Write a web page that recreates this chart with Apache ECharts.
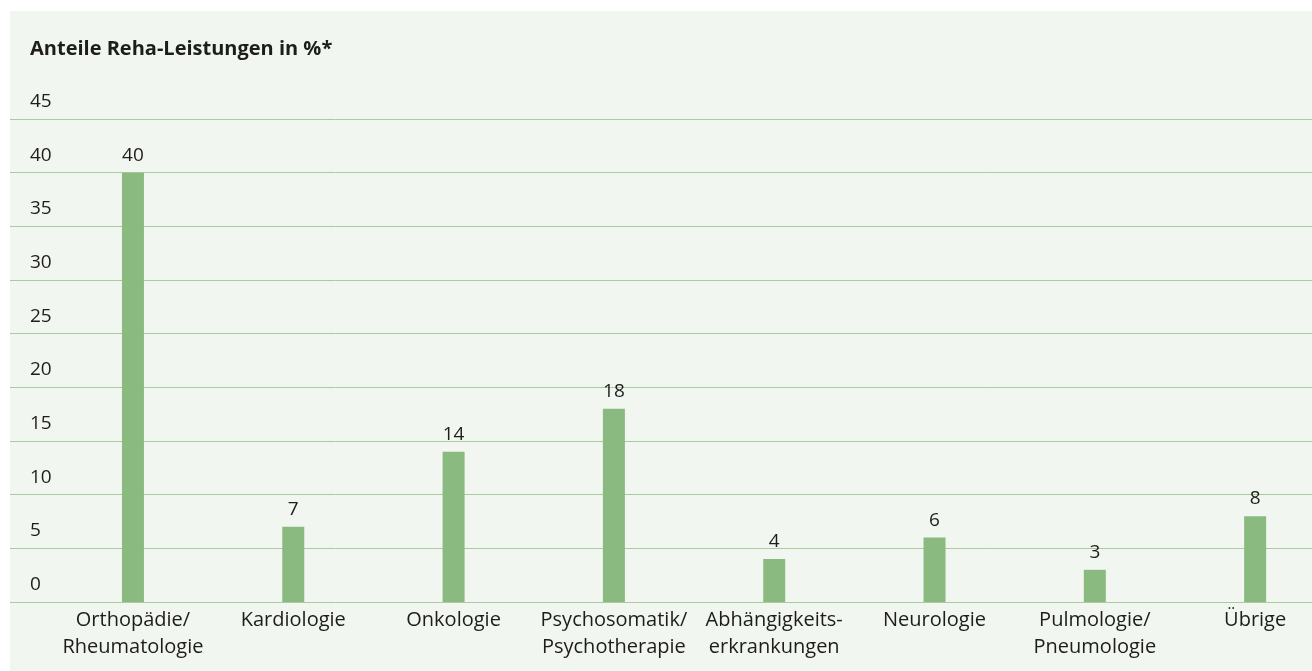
<!DOCTYPE html>
<html>
<head>
<meta charset="utf-8">
<script src="https://cdn.jsdelivr.net/npm/echarts@6/dist/echarts.min.js"></script>
<style>
  html, body { margin: 0; padding: 0; background: #ffffff; overflow: hidden; }
  #panel { position: absolute; left: 10px; top: 11px; width: 1302px; height: 660px; background: #f2f6f1; overflow: hidden; }
  #chart { position: absolute; left: 0; top: 0; width: 1400px; height: 660px; }
</style>
</head>
<body>
<div id="panel"><div id="chart"></div></div>
<script>
// Anteile Reha-Leistungen nach Indikation, in Prozent
const categories = [
  'Orthopädie/\nRheumatologie',
  'Kardiologie',
  'Onkologie',
  'Psychosomatik/\nPsychotherapie',
  'Abhängigkeits-\nerkrankungen',
  'Neurologie',
  'Pulmologie/\nPneumologie',
  'Übrige'
];
const shares = [40, 7, 14, 18, 4, 6, 3, 8];
const yTicks = { min: 0, max: 45, interval: 5 };

const FONT = '"Open Sans"';
const TEXT = '#1d1d1b';
const GREEN = '#8aba7f';
const GRID_LINE = '#a8cc9b';

const chart = echarts.init(document.getElementById('chart'), null, { renderer: 'canvas' });

chart.setOption({
  animation: false,
  backgroundColor: 'transparent',
  title: {
    text: 'Anteile Reha-Leistungen in %*',
    left: 20,
    top: 28,
    padding: 0,
    textStyle: { fontFamily: FONT, fontWeight: 'bold', fontSize: 20, color: TEXT }
  },
  grid: [
    // bars
    { left: 42.8, width: 1282.5, top: 108, bottom: 69, containLabel: false },
    // full-width gridlines and value labels
    { left: 0, width: 1302, top: 108, bottom: 69, containLabel: false }
  ],
  xAxis: [
    {
      gridIndex: 0,
      type: 'category',
      data: categories,
      axisLine: { show: false },
      axisTick: { show: false },
      axisLabel: {
        margin: 5,
        fontFamily: FONT, fontSize: 20, color: TEXT, lineHeight: 27,
        interval: 0
      }
    },
    {
      gridIndex: 1,
      type: 'value',
      show: false
    }
  ],
  yAxis: [
    {
      gridIndex: 0,
      type: 'value',
      min: yTicks.min, max: yTicks.max, interval: yTicks.interval,
      show: false,
      splitLine: { show: false }
    },
    {
      gridIndex: 1,
      type: 'value',
      min: yTicks.min, max: yTicks.max, interval: yTicks.interval,
      axisLine: { show: false },
      axisTick: { show: false },
      splitLine: { show: true, lineStyle: { color: GRID_LINE, width: 1 } },
      axisLabel: {
        inside: true,
        margin: 20,
        align: 'left',
        verticalAlign: 'bottom',
        padding: [0, 0, 8, 0],
        fontFamily: FONT, fontSize: 19, color: TEXT
      }
    }
  ],
  series: [
    {
      type: 'bar',
      xAxisIndex: 0,
      yAxisIndex: 0,
      data: shares,
      barWidth: 22,
      itemStyle: { color: GREEN },
      label: {
        show: true,
        position: 'top',
        distance: 8,
        fontFamily: FONT, fontSize: 19, color: TEXT
      }
    }
  ]
});
</script>
</body>
</html>
